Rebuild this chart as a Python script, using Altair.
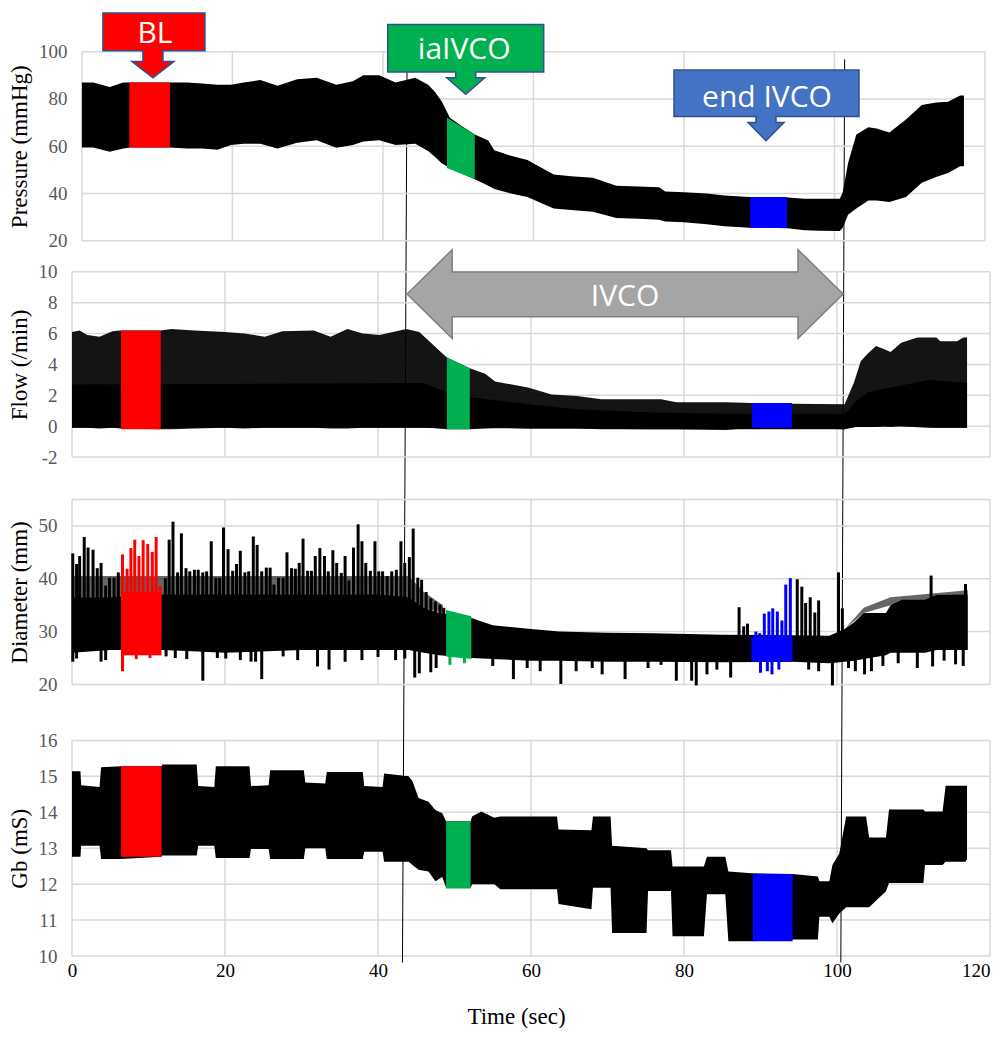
import altair as alt
import pandas as pd

# ---------------- data ----------------
XTICKS = [0, 20, 40, 60, 80, 100, 120]
P_TICKS = [20, 40, 60, 80, 100]
F_TICKS = [-2, 0, 2, 4, 6, 8, 10]
D_TICKS = [20, 30, 40, 50]
G_TICKS = [10, 11, 12, 13, 14, 15, 16]

# Pressure envelope (t, upper, lower)
pressure = [(0, 87, 59.5), (1.5, 87, 59.5), (3.7, 85, 57.7), (5.5, 87, 59), (6.4, 87, 59.5),
            (11.6, 87, 59.5), (14, 87, 59), (16, 86.5, 59), (18, 86, 58.5), (19.8, 86, 60.5),
            (21.5, 87, 61), (23.7, 88, 61), (26, 85.6, 59), (28.6, 88.3, 61.5), (31.2, 89, 62.5),
            (33.8, 86, 59.4), (36, 87.5, 60.5), (37.4, 90, 62), (39.5, 90, 62.5), (41.7, 87, 60.5),
            (44.3, 89, 61), (46.0, 86, 58), (46.9, 83, 55.6), (47.8, 79, 52.8), (48.9, 72, 50.8),
            (50.5, 68.5, 48.5), (52.2, 65, 46), (54, 62.4, 43.3), (54.8, 58.3, 41.9), (57, 56, 40),
            (59.2, 54.2, 38.5), (61, 51, 36), (62.7, 48, 33.7), (65, 47.3, 33), (67.9, 46.7, 32.3),
            (71, 43.3, 29.6), (74, 43, 29.3), (76.7, 42.6, 28.9), (77.5, 40.8, 28.2), (80, 40.5, 27.8),
            (83, 40, 27), (85.4, 39.2, 26.2), (88.7, 38.5, 25.5), (91, 38.5, 25.5), (93.8, 38.3, 25.3),
            (96, 37.8, 24.5), (98, 37.8, 24.2), (100.7, 37.8, 24.1), (101.1, 40.5, 25.5), (101.8, 52.8, 31),
            (102.9, 65, 33.7), (104.5, 68, 37), (105.6, 67.5, 37), (107.3, 65.8, 36.4), (109.5, 71.3, 38.5),
            (111.6, 77.4, 44.6), (113.5, 78.5, 47), (115.1, 78.8, 48.7), (116.7, 81.5, 51.5), (117.2, 81.5, 51.5)]
pressure_red = [(6.3, 87, 59.5), (11.7, 87, 59.5)]
pressure_green = [(48.5, 72, 50.8), (52.2, 65, 46)]
pressure_blue = [(88.8, 38.5, 25.5), (93.7, 38.5, 25.4)]

# Flow envelope (t, upper, lower) and dense core (t, upper, lower)
flow = [(0, 6.1, -0.1), (1, 6.2, -0.1), (2, 5.9, -0.1), (3.6, 5.8, -0.15), (5.3, 6.15, -0.1),
        (6.3, 6.2, -0.15), (11.6, 6.2, -0.2), (13, 6.3, -0.2), (16, 6.2, -0.15), (20, 6.1, -0.1),
        (22.5, 6.0, -0.15), (25.2, 5.8, -0.1), (27.5, 6.15, -0.1), (31.6, 6.2, -0.1), (33.8, 5.8, -0.15),
        (36, 6.3, -0.15), (38, 6.0, -0.1), (40.2, 5.9, -0.1), (43.7, 6.3, -0.1), (45.4, 6.1, -0.1),
        (46.7, 5.5, -0.1), (48.0, 4.9, -0.15), (49.0, 4.45, -0.2), (52.0, 3.75, -0.2), (54.0, 3.4, -0.15),
        (55.3, 2.9, -0.13), (59.6, 2.5, -0.15), (62.7, 2.05, -0.15), (66, 1.95, -0.15), (69.2, 1.75, -0.2),
        (77, 1.75, -0.2), (79, 1.55, -0.2), (85.5, 1.55, -0.25), (88.8, 1.5, -0.1), (94.1, 1.45, -0.1),
        (101.0, 1.42, -0.2), (101.5, 2.0, -0.1), (102.2, 2.8, -0.05), (103.1, 4.2, 0.0), (104, 4.7, -0.05),
        (105.1, 5.2, -0.05), (106.1, 5.0, 0.0), (107, 4.8, -0.05), (108.4, 5.4, 0.0), (110.5, 5.75, 0.0),
        (113, 5.75, -0.1), (113.5, 5.5, -0.1), (115.7, 5.5, -0.1), (116.5, 5.75, -0.1), (117.0, 5.75, -0.1)]
flow_core = [(0, 2.7, -0.1), (46, 2.8, -0.1), (49, 2.2, -0.15), (52, 1.9, -0.15), (55, 1.7, -0.1),
             (60, 1.4, -0.15), (66, 1.1, -0.15), (75, 0.9, -0.2), (85, 0.8, -0.2), (101, 0.8, -0.2),
             (102.5, 1.6, -0.05), (104, 2.2, -0.05), (108, 2.6, 0.0), (112, 3.0, -0.1), (117, 2.8, -0.1)]
flow_red = [(6.4, 6.2, -0.2), (11.6, 6.2, -0.2)]
flow_green = [(49.0, 4.45, -0.2), (52.0, 3.75, -0.2)]
flow_blue = [(88.9, 1.5, -0.1), (94.1, 1.5, -0.1)]

# Diameter: dense core (t, upper, lower), striped upper zones, beat spikes and dips (t, value)
diam_core = [(0, 36.5, 26), (5, 36.5, 26.5), (12, 37, 26.5), (20, 37, 26), (30, 37, 26.5), (40, 37, 26.5),
             (44, 36.5, 26.5), (46, 34.5, 26), (48, 33.5, 25.5), (52.3, 32.5, 25), (55, 31.2, 24.8),
             (60, 30.5, 24.5), (63.7, 30.0, 24.5), (70, 29.8, 24.3), (76, 29.7, 24.3), (85, 29.4, 24.2),
             (94.2, 29.3, 24.3), (99, 29.2, 24.0), (101, 30.5, 24.3), (102.2, 31.7, 24.5), (103.5, 33.5, 24.8),
             (106.4, 33.5, 25.5), (107, 35, 26), (108.5, 36, 26), (111.5, 36, 26), (113, 36.9, 26.5),
             (117.1, 37, 26.5)]
diam_stripes_early = [(0, 40.5, 36.5), (44, 40.5, 36.5), (46, 37.5, 34.5), (48.5, 35, 33.5)]
diam_stripes_late = [(101, 30.5, 30.5), (103.5, 34.5, 33.5), (107, 36.5, 35), (117.1, 37.8, 37)]
diam_spikes = [(0.1, 44.8), (0.6, 42.8), (1.0, 44.3), (1.6, 47.9), (2.1, 45.9), (2.75, 45.5), (3.3, 42.0),
               (3.8, 43.0), (4.4, 38.7), (4.9, 40.2), (5.5, 40.2), (6.05, 41.2), (12.2, 40.1), (12.7, 47.4),
               (13.2, 50.8), (13.8, 41.2), (14.3, 48.6), (14.9, 42.0), (15.4, 41.4), (16.0, 41.7), (16.5, 41.7),
               (17.1, 41.2), (17.6, 41.4), (18.2, 47.1), (18.8, 40.2), (19.3, 40.2), (19.8, 49.7), (20.4, 45.6),
               (21.0, 41.5), (21.5, 42.8), (22.0, 45.3), (22.6, 41.2), (23.1, 41.4), (23.7, 48.0), (24.2, 46.4),
               (24.8, 41.4), (25.4, 42.1), (25.9, 42.1), (26.4, 38.9), (27.0, 40.2), (27.6, 40.2), (28.1, 45.0),
               (28.7, 42.0), (29.2, 41.9), (29.7, 43.0), (30.2, 47.6), (30.8, 41.5), (31.3, 41.5), (31.8, 44.3),
               (32.4, 45.8), (33.0, 44.3), (33.5, 41.4), (34.1, 45.4), (34.6, 43.0), (35.2, 41.1), (35.7, 44.3),
               (36.2, 39.7), (36.8, 45.9), (37.4, 50.3), (37.9, 47.1), (38.4, 43.0), (39.0, 41.5), (39.6, 47.1),
               (40.1, 41.4), (40.6, 41.4), (41.2, 40.5), (41.8, 41.4), (42.4, 41.7), (43.0, 47.1), (43.5, 43.0),
               (44.1, 44.1), (44.6, 49.5), (45.2, 40.2), (45.7, 39.8), (46.3, 37.5), (46.9, 36.3), (47.5, 35.7),
               (48.1, 35.1), (48.6, 34.5), (87.2, 34.6), (87.8, 31.0), (88.3, 31.5), (94.8, 39.9), (95.4, 38.5),
               (95.9, 35.4), (96.5, 36.5), (97.1, 33.6), (97.6, 35.9), (100.2, 41.2), (100.7, 34.4),
               (112.3, 40.6), (116.8, 39.0)]
diam_dips = [(0.1, 24.3), (0.6, 24.9), (3.8, 24.3), (4.4, 24.6), (12.3, 25.3), (13.5, 25.0), (15.0, 24.8),
             (17.1, 20.7), (19.0, 25.0), (20.1, 24.9), (22.0, 24.6), (23.4, 24.3), (24.0, 24.3), (24.8, 21.0),
             (27.6, 25.3), (29.5, 24.6), (32.1, 23.4), (33.6, 22.8), (35.7, 24.3), (37.9, 24.6), (40.0, 25.2),
             (42.3, 24.6), (43.5, 24.9), (44.8, 21.3), (45.4, 22.1), (46.9, 22.3), (47.6, 23.1), (55.0, 23.5),
             (57.7, 21.0), (59.5, 23.1), (61.2, 22.5), (63.9, 20.1), (65.9, 22.5), (68.0, 23.1), (69.3, 21.9),
             (72.3, 21.0), (75.3, 23.1), (77.0, 23.7), (79.0, 20.7), (81.0, 20.7), (81.6, 19.8), (83.0, 21.9),
             (84.3, 22.8), (86.1, 21.3), (96.3, 22.8), (97.6, 22.5), (99.4, 19.8), (101.5, 23.1), (102.4, 22.5),
             (103.6, 21.9), (104.5, 22.5), (106.0, 23.5), (108.0, 24.0), (110.5, 23.1), (112.5, 23.4),
             (114.0, 24.5), (115.5, 23.8), (116.5, 23.5)]
diam_red = [(6.4, 37.5, 25.5), (11.7, 37.5, 25.5)]
diam_red_spikes = [(6.6, 44.6), (7.2, 41.9), (7.7, 45.8), (8.2, 47.4), (8.75, 44.3), (9.3, 47.3),
                   (9.9, 46.6), (10.5, 45.1), (11.0, 47.9), (11.5, 38.6)]
diam_red_dips = [(6.6, 22.5), (8.4, 24.8), (10.2, 25.0)]
diam_green = [(48.9, 34.1, 25.3), (52.2, 32.9, 24.8)]
diam_green_dips = [(49.4, 23.7), (51.3, 24.0)]
diam_blue = [(88.8, 29.0, 24.3), (94.2, 29.0, 24.3)]
diam_blue_spikes = [(89.4, 30.0), (89.9, 29.7), (90.5, 33.4), (91.1, 33.8), (91.6, 34.4), (92.2, 33.8),
                    (92.8, 32.1), (93.3, 38.9), (93.9, 40.1)]
diam_blue_dips = [(90.0, 22.2), (90.9, 22.5), (91.5, 21.9), (92.4, 22.8)]

# Gb envelope (t, upper, lower)
gb = [(0, 15.14, 12.76), (1.1, 15.14, 12.76), (1.2, 14.75, 13.07), (3.6, 14.7, 13.07), (3.8, 15.25, 12.7),
      (6.4, 15.28, 12.7), (11.7, 15.28, 12.76), (11.8, 15.33, 12.8), (16.3, 15.33, 12.8), (16.5, 14.73, 13.07),
      (18.6, 14.7, 13.07), (18.8, 15.28, 12.73), (23.2, 15.28, 12.73), (23.4, 14.73, 12.98), (25.7, 14.75, 12.98),
      (25.9, 15.17, 12.7), (30.3, 15.17, 12.7), (30.5, 14.83, 13.0), (33.1, 14.8, 13.0), (33.3, 15.12, 12.7),
      (38.0, 15.12, 12.7), (38.2, 14.73, 12.9), (40.6, 14.7, 12.9), (40.8, 15.08, 12.62), (44.0, 15.0, 12.62),
      (44.5, 14.87, 12.53), (45.3, 14.4, 12.4), (46.6, 14.29, 12.35), (47.5, 14.06, 12.08), (48.4, 13.97, 12.2),
      (48.9, 13.75, 11.9), (52.1, 13.75, 11.9), (52.3, 13.88, 12.0), (53.5, 14.02, 12.0), (55.2, 13.85, 12.0),
      (56.0, 13.88, 11.86), (63.4, 13.88, 11.86), (63.6, 13.52, 11.45), (67.9, 13.5, 11.3), (68.1, 13.88, 11.9),
      (70.4, 13.88, 11.9), (70.6, 13.07, 10.64), (75.1, 13.0, 10.64), (75.3, 12.94, 11.81), (78.3, 12.94, 11.81),
      (78.5, 12.49, 10.55), (82.6, 12.49, 10.55), (83.0, 12.76, 11.72), (85.4, 12.76, 11.72), (85.8, 12.35, 10.41),
      (88.8, 12.3, 10.41), (94.2, 12.28, 10.46), (97.5, 12.21, 10.46), (97.7, 12.08, 11.09), (99.0, 12.08, 11.09),
      (99.4, 12.53, 10.91), (100.3, 12.85, 11.18), (101.2, 13.88, 11.36), (103.8, 13.88, 11.36),
      (104.2, 13.3, 11.36), (106.4, 13.3, 11.8), (106.8, 14.08, 12.03), (111.3, 14.08, 12.03),
      (111.5, 14.02, 12.53), (113.8, 14.02, 12.53), (114.2, 14.74, 12.62), (116.8, 14.74, 12.62),
      (117.0, 14.74, 12.7)]
gb_red = [(6.4, 15.28, 12.76), (11.7, 15.28, 12.76)]
gb_green = [(48.9, 13.75, 11.88), (52.1, 13.75, 11.88)]
gb_blue = [(89.0, 12.28, 10.41), (94.2, 12.28, 10.41)]

# annotations (data coordinates)
markers = [(43.8, 43.2), (101.0, 100.5)]           # time at top / bottom of the drawn line
ivco_arrow = [(43.8, 8.56, 8.56), (49.7, 11.43, 5.68), (49.7, 9.98, 7.09),
              (94.9, 9.98, 7.09), (94.9, 11.43, 5.68), (100.8, 8.56, 8.56)]
ivco_label = [("IVCO", 72.3, 8.56)]
callouts = [("BL", 9.44, 88.9), ("iaIVCO", 51.0, 81.95), ("end IVCO", 90.9, 62.3)]

# ---------------- styles / layout ----------------
GRID = "#D9D9D9"
RED, GREEN, BLUE = "#FF0000", "#00B050", "#0000FF"
W, H = 918, 948
VS = 0.97
SERIF = "Liberation Serif"

callout_fill = {"BL": "#FF0000", "iaIVCO": "#00B050", "end IVCO": "#4472C4"}
callout_geom = {"BL": (-50, 52, -67, -28, 10, -17, 21),
                "iaIVCO": (-78, 78, -72, -23, 10, -17, 19),
                "end IVCO": (-92, 93, -73, -25, 10, -19, 18)}
callout_text_off = {"BL": (2, -35), "iaIVCO": (-1.5, -35), "end IVCO": (1, -34)}


def callout_path(bl, br, bt, bb, shw, ht, hhw):
    pts = [(bl, bt), (br, bt), (br, bb), (shw, bb), (shw, ht), (hhw, ht), (0, 0),
           (-hhw, ht), (-shw, ht), (-shw, bb), (bl, bb)]
    return "M" + " L".join(f"{x:.1f},{y * VS:.1f}" for x, y in pts) + " Z"


def yaxis(title, values, lpad, tpad):
    return alt.Axis(title=title, values=values, orient="left", grid=False, domain=False, ticks=False,
                    labelFont=SERIF, labelFontSize=19, labelColor="#595959", labelPadding=lpad,
                    labelExpr="datum.value + ''",
                    titleFont=SERIF, titleFontSize=23, titleFontWeight="normal", titleColor="black",
                    titlePadding=tpad)


time_axis = alt.Axis(title="Time (sec)", values=XTICKS, orient="bottom", grid=False, domain=False, ticks=False,
                     labelFont=SERIF, labelFontSize=19, labelColor="black", labelPadding=5, labelFlush=False,
                     labelAlign={"condition": {"test": "datum.value == 120", "value": "right"}, "value": "center"},
                     labelOverlap=False, titleFont=SERIF, titleFontSize=23, titleFontWeight="normal",
                     titleColor="black", titlePadding=25, titleX=444)

xs_main = alt.Scale(domain=[0, 120], range=[0, W], nice=False, zero=False)
xs_p1 = alt.Scale(domain=[0, 120], range=[9.9, 913], nice=False, zero=False)
ys_p = alt.Scale(domain=[20, 100], range=[232.8, 43.65], nice=False, zero=False)
ys_f = alt.Scale(domain=[-2, 10], range=[449.1, 263.8], nice=False, zero=False)
ys_d = alt.Scale(domain=[20, 55], range=[676.4, 491.5], nice=False, zero=False)
ys_g = alt.Scale(domain=[10, 16], range=[948, 732.4], nice=False, zero=False)


def fns(xs, ys, xax, yax):
    X = lambda f: alt.X(f, type="quantitative", scale=xs, axis=xax)
    Y = lambda f: alt.Y(f, type="quantitative", scale=ys, axis=yax)
    return X, Y


def grid(X, Y, xs, ys, xax, yax, ylines, ylo, yhi):
    h = alt.Chart(pd.DataFrame({"g": ylines})).mark_rule(color=GRID, strokeWidth=1.5).encode(
        y=Y("g"), x=alt.XDatum(0, scale=xs, axis=xax), x2=alt.X2Datum(120))
    v = alt.Chart(pd.DataFrame({"g": XTICKS})).mark_rule(color=GRID, strokeWidth=1.5).encode(
        x=X("g"), y=alt.YDatum(ylo, scale=ys, axis=yax), y2=alt.Y2Datum(yhi))
    return [h, v]


def band(rows, X, Y, color, opacity=1.0):
    df = pd.DataFrame(rows, columns=["t", "hi", "lo"])
    return alt.Chart(df).mark_area(color=color, opacity=opacity).encode(
        x=X("t"), y=Y("hi"), y2=alt.Y2("lo"))


def spikes(rows, X, Y, color, base):
    df = pd.DataFrame(rows, columns=["t", "v"])
    return alt.Chart(df).mark_rule(color=color, strokeWidth=3).encode(
        x=X("t"), y=Y("v"), y2=alt.Y2Datum(base))


# ---------------- Panel 1: Pressure ----------------
ax_p = yaxis("Pressure (mmHg)", P_TICKS, 5, 7.5)
X1, Y1 = fns(xs_p1, ys_p, None, ax_p)
p1_layers = grid(X1, Y1, xs_p1, ys_p, None, ax_p, P_TICKS, 20, 100)
p1_layers += [band(pressure, X1, Y1, "black"),
              band(pressure_red, X1, Y1, RED),
              band(pressure_green, X1, Y1, GREEN),
              band(pressure_blue, X1, Y1, BLUE)]
for label, t, v in callouts:
    df = pd.DataFrame({"t": [t], "v": [v]})
    p1_layers.append(alt.Chart(df).mark_point(
        shape=callout_path(*callout_geom[label]), size=4, filled=True, fill=callout_fill[label],
        stroke="#2F528F", strokeWidth=1.5, opacity=1, strokeJoin="miter").encode(x=X1("t"), y=Y1("v")))
    dx, dy = callout_text_off[label]
    p1_layers.append(alt.Chart(df).mark_text(
        text=label, font="Open Sans", fontSize=30, color="white", align="center",
        baseline="alphabetic", dx=dx, dy=dy).encode(x=X1("t"), y=Y1("v")))
P1 = alt.layer(*p1_layers)

# ---------------- Panel 2: Flow ----------------
ax_f = yaxis("Flow (/min)", F_TICKS, 15, 7)
X2, Y2 = fns(xs_main, ys_f, None, ax_f)
p2_layers = grid(X2, Y2, xs_main, ys_f, None, ax_f, F_TICKS, -2, 10)
p2_layers += [band(flow, X2, Y2, "black", 0.92),
              band(flow_core, X2, Y2, "black"),
              band(flow_red, X2, Y2, RED),
              band(flow_green, X2, Y2, GREEN),
              band(flow_blue, X2, Y2, BLUE)]
p2_layers.append(alt.Chart(pd.DataFrame(ivco_arrow, columns=["t", "hi", "lo"])).mark_area(
    fill="#A5A5A5", stroke="#7F7F7F", strokeWidth=1.5, opacity=1).encode(
    x=X2("t"), y=Y2("hi"), y2=alt.Y2("lo")))
p2_layers.append(alt.Chart(pd.DataFrame(ivco_label, columns=["label", "t", "v"])).mark_text(
    font="Open Sans", fontSize=30, color="white", align="center", baseline="alphabetic", dy=11.5).encode(
    x=X2("t"), y=Y2("v"), text="label:N"))
P2 = alt.layer(*p2_layers)

# ---------------- Panel 3: Diameter ----------------
ax_d = yaxis("Diameter (mm)", D_TICKS, 15, 7)
X3, Y3 = fns(xs_main, ys_d, None, ax_d)
p3_layers = grid(X3, Y3, xs_main, ys_d, None, ax_d, D_TICKS + [55], 20, 55)
p3_layers += [band(diam_stripes_early, X3, Y3, "black", 0.6),
              band(diam_stripes_late, X3, Y3, "black", 0.6),
              band(diam_core, X3, Y3, "black"),
              spikes(diam_spikes, X3, Y3, "black", 28),
              spikes(diam_dips, X3, Y3, "black", 28),
              band(diam_red, X3, Y3, RED),
              spikes(diam_red_spikes, X3, Y3, RED, 30),
              spikes(diam_red_dips, X3, Y3, RED, 28),
              band(diam_green, X3, Y3, GREEN),
              spikes(diam_green_dips, X3, Y3, GREEN, 28),
              band(diam_blue, X3, Y3, BLUE),
              spikes(diam_blue_spikes, X3, Y3, BLUE, 27),
              spikes(diam_blue_dips, X3, Y3, BLUE, 27)]
P3 = alt.layer(*p3_layers)

# ---------------- Panel 4: Gb ----------------
ax_g = yaxis("Gb (mS)", G_TICKS, 15, 7)
X4, Y4 = fns(xs_main, ys_g, time_axis, ax_g)
p4_layers = grid(X4, Y4, xs_main, ys_g, time_axis, ax_g, G_TICKS, 10, 16)
p4_layers += [band(gb, X4, Y4, "black"),
              band(gb_red, X4, Y4, RED),
              band(gb_green, X4, Y4, GREEN),
              band(gb_blue, X4, Y4, BLUE)]
p4_layers.append(alt.Chart(pd.DataFrame(markers, columns=["t0", "t1"])).mark_rule(
    color="black", strokeWidth=1).encode(x=X4("t0"), x2=alt.X2("t1"), y=alt.value(51.4), y2=alt.value(954.5)))
P4 = alt.layer(*p4_layers)

chart = (alt.layer(P4, P3, P2, P1)
         .resolve_scale(x="independent", y="independent")
         .properties(width=W, height=H, padding={"left": 0, "right": 0, "top": 0, "bottom": 0})
         .configure_view(stroke=None))

chart.save("out.html", embed_options={"renderer": "svg", "actions": False, "padding": 0})
